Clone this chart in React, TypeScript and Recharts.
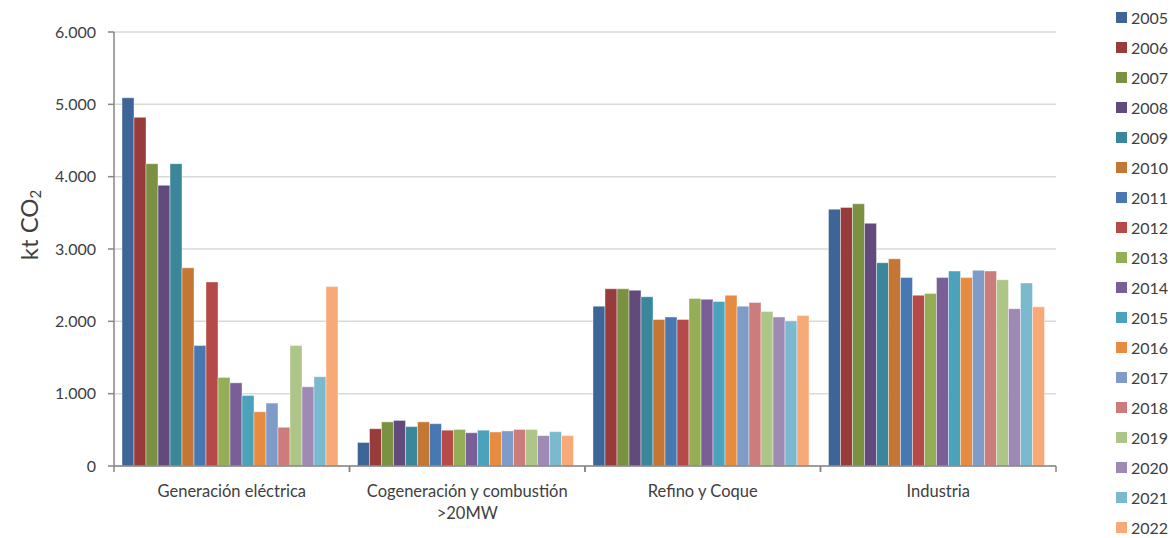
import { BarChart, Bar, XAxis, YAxis, CartesianGrid, Legend } from "recharts";

// kt CO2 por sector y año
const categories = ["Generación eléctrica", "Cogeneración y combustión >20MW", "Refino y Coque", "Industria"];
const years = ["2005", "2006", "2007", "2008", "2009", "2010", "2011", "2012", "2013", "2014", "2015", "2016", "2017", "2018", "2019", "2020", "2021", "2022"];

const generacion = [5090, 4820, 4180, 3880, 4180, 2740, 1665, 2545, 1225, 1150, 975, 750, 870, 535, 1665, 1095, 1235, 2480];
const cogeneracion = [325, 515, 610, 630, 545, 610, 585, 495, 505, 460, 495, 470, 485, 505, 505, 420, 475, 420];
const refino = [2210, 2450, 2450, 2430, 2340, 2025, 2060, 2025, 2315, 2305, 2275, 2360, 2210, 2260, 2135, 2060, 2005, 2080];
const industria = [3550, 3575, 3625, 3355, 2810, 2865, 2605, 2360, 2385, 2605, 2695, 2605, 2705, 2695, 2575, 2175, 2530, 2200];

const yTicks = [0, 1000, 2000, 3000, 4000, 5000, 6000];

const COLORS = [
  "#3d6597", "#983b3b", "#7a9141", "#624b7c", "#3a879b", "#c47735",
  "#4878b1", "#b54a48", "#94ae55", "#7a5e98", "#4aa3bb", "#e78b40",
  "#7f9bc8", "#cc7d7b", "#adc586", "#9e8ab5", "#7bb9ce", "#f7aa78",
];

const FONT = "Lato, 'Open Sans', sans-serif";
const TEXT = "#404040";
const AXIS = "#868686";

const W = 1170;
const H = 538;
const PLOT_LEFT = 114;
const PLOT_RIGHT = 1056;
const HALF_BAND = (PLOT_RIGHT - PLOT_LEFT) / categories.length / 2;

const series = [generacion, cogeneracion, refino, industria];
const chartData = categories.map((name, i) => {
  const row: Record<string, string | number> = { name };
  years.forEach((y, j) => { row[y] = series[i][j]; });
  return row;
});

const fmt = (v: number) => String(v).replace(/\B(?=(\d{3})+(?!\d))/g, ".");

function wrap(label: string, max = 26): string[] {
  const lines: string[] = [];
  let cur = "";
  label.split(" ").forEach((w) => {
    const next = cur ? cur + " " + w : w;
    if (next.length > max && cur) { lines.push(cur); cur = w; } else { cur = next; }
  });
  if (cur) lines.push(cur);
  return lines;
}

function CategoryTick(props: any) {
  const { x, y, payload } = props;
  const lines = wrap(String(payload.value));
  return (
    <g>
      <line x1={x - HALF_BAND} x2={x - HALF_BAND} y1={y} y2={y + 6} stroke={AXIS} strokeWidth={1.5} />
      <line x1={x + HALF_BAND} x2={x + HALF_BAND} y1={y} y2={y + 6} stroke={AXIS} strokeWidth={1.5} />
      <text x={x} y={y + 31} textAnchor="middle" fontSize={16.5} fill={TEXT} fontFamily={FONT}>
        {lines.map((l, i) => (
          <tspan key={i} x={x} dy={i === 0 ? 0 : 22}>{l}</tspan>
        ))}
      </text>
    </g>
  );
}

function YTitle() {
  return (
    <text x={28} y={225} transform="rotate(-90 28 225)" textAnchor="middle" dominantBaseline="central"
      fontSize={24} fill={TEXT} fontFamily={FONT}>
      kt CO<tspan fontSize={15} dy={7}>2</tspan>
    </text>
  );
}

function LegendList(props: any) {
  const { payload } = props;
  return (
    <div style={{ fontFamily: FONT, fontSize: 16, color: TEXT }}>
      {(payload || []).map((p: any) => (
        <div key={p.value} style={{ height: 30, display: "flex", alignItems: "center" }}>
          <span style={{ width: 11, height: 11, background: p.color, marginRight: 4, display: "inline-block" }} />
          <span>{p.value}</span>
        </div>
      ))}
    </div>
  );
}

export default function App() {
  return (
    <div style={{ position: "absolute", left: 0, top: 0, width: W, height: H, background: "#fff" }}>
      <BarChart width={W} height={H} data={chartData}
        margin={{ top: 32, right: W - PLOT_RIGHT, bottom: 0, left: 0 }}
        barCategoryGap={8} barGap={0}>
        <CartesianGrid vertical={false} stroke="#d9d9d9" strokeWidth={1.5} />
        <XAxis dataKey="name" height={72} interval={0} tickLine={false} tickSize={0} tickMargin={0}
          axisLine={{ stroke: AXIS, strokeWidth: 1.5 }} tick={<CategoryTick />} />
        <YAxis width={PLOT_LEFT} domain={[0, 6000]} ticks={yTicks} interval={0} tickFormatter={fmt}
          tickSize={6} tickMargin={12} axisLine={{ stroke: AXIS, strokeWidth: 1.5 }}
          tickLine={{ stroke: AXIS, strokeWidth: 1.5 }}
          tick={{ fontSize: 16, fill: TEXT, fontFamily: FONT }}
          label={{ content: <YTitle /> }} />
        <Legend layout="vertical" align="center" verticalAlign="middle" content={<LegendList />}
          wrapperStyle={{ left: 1116, top: 2, width: 54, height: 536 }} />
        {years.map((y, i) => (
          <Bar key={y} dataKey={y} fill={COLORS[i]} stroke="#ffffff" strokeOpacity={0.5} strokeWidth={0.8}
            isAnimationActive={false} />
        ))}
      </BarChart>
    </div>
  );
}
